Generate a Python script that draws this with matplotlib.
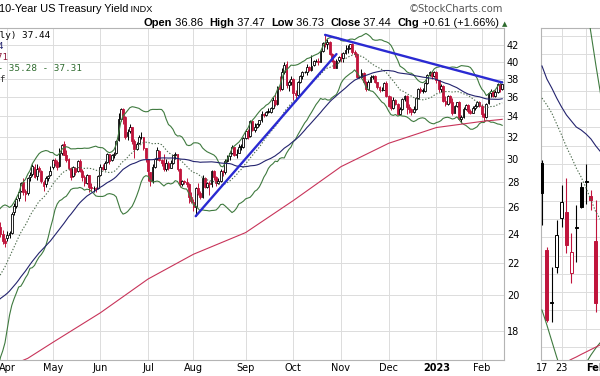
import matplotlib
matplotlib.use("Agg")
import matplotlib.pyplot as plt
from matplotlib.ticker import FixedLocator, NullLocator, FixedFormatter
import numpy as np
import pandas as pd

# ---------------- data (TNX = 10y yield x 10) ----------------
holidays = ["2022-01-17", "2022-02-21", "2022-04-15", "2022-05-30", "2022-06-20",
            "2022-07-04", "2022-09-05", "2022-11-24", "2022-12-26", "2023-01-02",
            "2023-01-16"]

# closes before the visible window (Jan 3 - Mar 25 2022), used for the moving averages
warmup_close = [
    16.3, 16.6, 17.0, 17.3, 17.6, 17.8, 17.4, 17.4, 17.0, 17.8, 18.7, 18.3, 18.3, 17.5, 17.5, 17.7, 18.7, 18.0, 17.8, 17.9,
    18.1, 17.7, 18.3, 19.3, 19.2, 19.6, 19.4, 20.3, 19.4, 19.9, 20.5, 20.3, 19.7, 19.3, 19.4, 19.9, 19.7, 19.7, 18.3,
    17.2, 18.6, 18.4, 17.4, 17.8, 18.6, 19.5, 19.9, 20.0, 21.4, 21.6, 21.9, 21.9, 21.5, 23.2, 23.8, 23.0, 23.7, 24.8,
]

# daily candles Mar 28 2022 - Feb 14 2023, one line per month
opens = [
    24.9, 24.5, 24.0, 23.5,
    23.7, 23.9, 24.1, 25.6, 26.1, 26.7, 27.3, 28.0, 27.3, 27.1, 28.4, 28.7, 29.3, 28.5, 29.2, 28.9, 28.0, 27.8, 28.3, 28.6,
    29.3, 29.9, 29.7, 29.4, 30.5, 31.3, 30.3, 30.0, 29.2, 28.5, 29.2, 28.9, 29.8, 28.9, 28.4, 27.9, 28.6, 27.6, 27.5, 27.5, 27.5,
    28.6, 29.3, 29.1, 29.7, 30.4, 29.9, 30.3, 30.5, 31.7, 33.7, 34.8, 33.9, 32.1, 32.6, 33.0, 31.6, 30.9, 31.4, 32.0, 32.0, 31.0,
    30.0, 28.8, 28.1, 29.3, 30.0, 30.7, 29.9, 29.6, 29.1, 29.6, 29.2, 29.6, 30.3, 30.4, 29.1, 27.8, 28.1, 28.0, 27.8, 26.8,
    26.4, 26.0, 27.5, 27.1, 26.8, 28.3, 27.6, 27.9, 27.8, 28.9, 28.4, 27.9, 28.1, 28.9, 28.8, 29.8, 30.2, 30.5, 31.1, 30.3, 30.5, 31.1, 31.1,
    31.9, 32.6, 32.1, 33.5, 32.7, 33.0, 33.2, 33.6, 34.2, 34.1, 34.5, 34.5, 34.9, 35.7, 35.3, 37.1, 36.9, 38.8, 39.7, 37.3, 37.6,
    38.0, 36.5, 36.2, 37.6, 38.3, 38.8, 38.8, 39.4, 39.0, 39.6, 40.1, 40.1, 40.0, 41.3, 42.3, 42.2, 42.4, 40.9, 40.1, 39.3, 40.2,
    40.5, 40.4, 41.0, 41.5, 41.6, 42.1, 41.2, 40.9, 38.2, 38.2, 38.7, 37.7, 36.9, 37.7, 38.2, 38.3, 37.6, 37.1, 36.8, 36.8, 37.5,
    36.1, 35.1, 34.9, 35.7, 35.3, 34.2, 34.8, 35.8, 36.1, 35.0, 34.8, 34.5, 34.8, 35.9, 36.9, 36.7, 36.7, 37.5, 38.5, 38.8, 38.3,
    38.8, 37.9, 36.9, 37.2, 35.6, 35.3, 36.1, 35.5, 34.4, 35.1, 35.5, 33.7, 33.9, 34.8, 35.2, 34.6, 34.4, 34.9, 35.1, 35.5,
    35.1, 34.2, 33.9, 35.4, 36.4, 36.7, 36.1, 36.6, 37.4, 36.86,
]
highs = [
    25.6, 24.9, 24.3, 23.7,
    24.2, 24.2, 25.6, 26.3, 26.8, 27.3, 28.0, 28.3, 27.4, 28.4, 28.8, 29.5, 29.5, 29.5, 29.4, 29.0, 28.2, 28.5, 28.6, 29.4,
    30.0, 30.1, 29.9, 31.0, 31.3, 31.6, 30.8, 30.1, 29.3, 29.4, 29.3, 29.9, 30.0, 29.1, 28.6, 28.7, 28.6, 27.9, 27.7, 27.6, 28.6,
    29.5, 29.5, 29.8, 30.5, 30.4, 30.4, 30.6, 31.7, 34.3, 34.9, 34.9, 34.0, 32.8, 33.2, 33.0, 31.8, 31.5, 32.2, 32.5, 32.0, 31.0,
    30.0, 28.8, 29.5, 30.1, 31.1, 30.8, 30.0, 30.4, 30.0, 29.8, 29.9, 30.3, 30.6, 30.4, 29.2, 28.2, 28.2, 28.3, 27.9, 27.2,
    26.6, 27.6, 27.9, 27.3, 28.6, 28.4, 28.0, 28.1, 29.0, 29.0, 28.5, 28.3, 29.1, 29.0, 30.0, 30.3, 30.7, 31.2, 31.1, 30.9, 31.3, 31.3, 32.0,
    32.8, 32.8, 33.6, 33.6, 33.3, 33.3, 33.6, 34.6, 34.3, 34.6, 34.9, 35.0, 36.0, 36.4, 37.2, 38.3, 39.3, 39.9, 40.1, 37.9, 38.3,
    38.1, 36.8, 37.8, 38.4, 38.9, 38.9, 39.7, 39.5, 40.8, 40.2, 40.3, 40.4, 41.4, 42.4, 43.4, 42.8, 42.5, 41.0, 40.2, 40.3, 40.7,
    41.0, 41.2, 42.0, 42.0, 42.2, 42.3, 41.4, 41.0, 38.3, 39.1, 38.8, 37.8, 37.9, 38.4, 38.5, 38.4, 37.7, 37.2, 37.1, 37.6, 37.8,
    36.2, 36.1, 36.0, 35.8, 35.4, 35.0, 35.9, 36.2, 36.2, 35.3, 34.9, 35.1, 36.0, 37.0, 37.1, 37.0, 37.6, 38.6, 38.9, 38.9, 38.9,
    38.9, 37.9, 37.4, 37.3, 36.1, 36.2, 36.2, 35.9, 35.2, 35.5, 35.6, 34.1, 35.0, 35.3, 35.3, 34.8, 35.1, 35.3, 35.6, 35.6,
    35.3, 34.4, 35.4, 36.4, 36.9, 36.8, 36.8, 37.5, 37.5, 37.47,
]
lows = [
    24.5, 23.8, 23.3, 23.1,
    23.5, 23.7, 24.0, 25.4, 25.9, 26.5, 27.2, 26.9, 26.5, 26.9, 28.1, 28.5, 28.3, 28.2, 28.8, 27.9, 27.3, 27.6, 28.1, 28.5,
    29.1, 29.4, 29.0, 29.3, 30.3, 30.3, 29.7, 29.0, 28.2, 28.4, 28.6, 28.8, 28.8, 28.1, 27.7, 27.8, 27.2, 27.3, 27.2, 27.2, 27.4,
    28.5, 29.0, 29.0, 29.6, 29.5, 29.8, 30.1, 30.4, 31.6, 33.5, 33.2, 31.8, 31.7, 32.4, 31.3, 30.1, 30.8, 31.3, 31.8, 30.8, 29.7,
    28.1, 27.7, 27.9, 29.2, 29.9, 29.8, 29.4, 28.9, 28.9, 29.0, 29.2, 29.5, 30.0, 28.9, 27.6, 27.7, 27.8, 27.6, 26.3, 26.3,
    25.7, 25.3, 26.9, 26.6, 26.7, 27.5, 27.5, 26.9, 27.6, 28.2, 27.7, 27.8, 28.0, 28.5, 28.7, 29.7, 29.9, 30.4, 30.2, 30.1, 30.5, 30.8, 31.0,
    31.8, 31.8, 32.0, 32.6, 32.5, 32.9, 33.1, 33.4, 33.9, 34.0, 34.3, 34.4, 34.8, 35.1, 35.2, 36.7, 36.8, 38.6, 37.0, 36.7, 37.3,
    35.7, 35.6, 36.1, 37.5, 38.0, 38.7, 38.5, 38.9, 38.9, 39.5, 39.9, 39.6, 39.9, 41.2, 41.8, 41.5, 40.8, 39.9, 39.2, 39.2, 39.9,
    39.9, 39.9, 40.9, 41.0, 41.5, 40.9, 40.5, 38.1, 38.1, 38.1, 37.5, 36.7, 36.8, 37.6, 38.0, 37.5, 36.9, 36.6, 36.7, 36.8, 36.0,
    35.0, 34.7, 34.8, 35.2, 34.1, 34.1, 34.7, 35.6, 34.2, 34.4, 34.1, 34.4, 34.7, 35.8, 36.4, 36.4, 36.6, 37.4, 38.3, 38.0, 38.2,
    37.5, 36.6, 36.6, 35.5, 35.1, 35.2, 35.4, 34.1, 34.3, 35.0, 33.6, 33.3, 33.8, 34.7, 34.4, 34.2, 34.4, 34.7, 35.0, 35.0,
    33.9, 33.5, 33.8, 35.3, 36.0, 36.0, 36.0, 36.5, 36.6, 36.73,
]
closes = [
    24.6, 24.0, 23.5, 23.4,
    23.9, 24.1, 25.5, 26.1, 26.6, 27.2, 27.9, 27.2, 27.0, 28.3, 28.6, 29.4, 28.4, 29.1, 29.0, 28.1, 27.7, 28.3, 28.5, 28.9,
    29.9, 29.6, 29.3, 30.5, 31.2, 30.3, 29.9, 29.2, 28.4, 29.3, 28.8, 29.8, 28.9, 28.4, 27.9, 28.6, 27.6, 27.5, 27.5, 27.4, 28.5,
    29.3, 29.1, 29.6, 30.4, 29.8, 30.3, 30.4, 31.6, 33.7, 34.8, 33.9, 32.0, 32.5, 33.0, 31.6, 30.9, 31.3, 32.0, 32.0, 31.0, 30.1,
    28.9, 28.1, 29.3, 30.0, 30.8, 29.9, 29.6, 29.1, 29.6, 29.2, 29.6, 30.3, 30.4, 29.1, 27.8, 28.1, 28.0, 27.8, 26.8, 26.5,
    26.0, 27.5, 27.1, 26.8, 28.3, 27.6, 27.9, 27.8, 28.9, 28.4, 27.9, 28.1, 28.9, 28.8, 29.8, 30.2, 30.5, 31.1, 30.3, 30.4, 31.1, 31.1, 31.9,
    32.6, 32.0, 33.5, 32.7, 33.0, 33.2, 33.6, 34.2, 34.1, 34.5, 34.5, 34.9, 35.7, 35.3, 37.1, 36.9, 38.8, 39.6, 37.3, 37.6, 38.0,
    36.5, 36.2, 37.6, 38.3, 38.8, 38.8, 39.4, 39.0, 39.5, 40.1, 40.1, 40.0, 41.3, 42.3, 42.1, 42.4, 40.9, 40.1, 39.2, 40.1, 40.5,
    40.4, 41.0, 41.4, 41.6, 42.1, 41.2, 40.9, 38.2, 38.2, 38.7, 37.7, 36.9, 37.7, 38.2, 38.3, 37.6, 37.1, 36.8, 36.8, 37.5, 36.1,
    35.1, 34.9, 35.7, 35.3, 34.2, 34.8, 35.8, 36.1, 35.0, 34.8, 34.5, 34.8, 35.9, 36.9, 36.7, 36.7, 37.5, 38.5, 38.8, 38.3, 38.8,
    37.9, 36.9, 37.2, 35.6, 35.3, 36.1, 35.5, 34.4, 35.1, 35.5, 33.7, 33.9, 34.8, 35.2, 34.6, 34.4, 34.9, 35.1, 35.5, 35.1,
    34.2, 33.9, 35.3, 36.4, 36.7, 36.1, 36.6, 37.4, 36.83, 37.44,
]

# 200-day MA
sma200_dates = ["2022-03-28", "2022-04-14", "2022-05-02", "2022-06-01", "2022-07-01", "2022-08-01", "2022-09-01",
                "2022-10-03", "2022-11-01", "2022-12-01", "2023-01-03", "2023-02-01", "2023-02-14"]
sma200_vals = [16.0, 16.6, 17.4, 19.0, 21.0, 22.6, 24.1, 26.5, 29.3, 31.4, 32.9, 33.5, 33.71]

# hand drawn trendlines
trend_up = [("2022-08-02", 25.3), ("2022-10-28", 40.9)]
trend_down = [("2022-10-21", 43.3), ("2023-02-14", 37.6)]

month_starts = ["2022-04", "2022-05", "2022-06", "2022-07", "2022-08", "2022-09", "2022-10",
                "2022-11", "2022-12", "2023-01", "2023-02"]
month_labels = ["Apr", "May", "Jun", "Jul", "Aug", "Sep", "Oct", "Nov", "Dec", "2023", "Feb"]
ytick_vals = [18, 20, 22, 24, 26, 28, 30, 32, 34, 36, 38, 40, 42]

# right hand (cut off) second chart, values in its own units
r_prev_close = 160
r_open = [197, 110, 57, 93, 142, 148, 87, 132, 173, 178, 164, 119]
r_high = [200, 113, 93, 140, 175, 182, 127, 155, 178, 196, 170, 160]
r_low = [135, 38, 38, 87, 133, 107, 77, 98, 152, 156, 150, 48]
r_close = [167, 40, 57, 125, 158, 115, 108, 132, 153, 178, 160, 57]
r_navy = [294, 281, 272, 262, 253, 245, 239, 233, 230, 226, 221, 214, 208]
r_dotted = [262, 255, 247, 236, 225, 213, 203, 192, 183, 172, 160, 148, 140]
r_bb_up = [480, 470, 460, 450, 440, 430, 420, 400, 385, 358, 327, 295, 265]
r_bb_low = [50, 35, 19, 3, -12, -25, -35, -30, -15, -3, 5, 12, 18]
r_red = [-14, -12, -9, -7, -4, -2, 0.7, 3, 5.6, 8, 10.5, 12.9, 15.4]
r_tick_pos = [0, 4, 11]
r_tick_labels = ["17", "23", "Feb"]

# ---------------- layout helpers ----------------
W, H = 600, 376
fig = plt.figure(figsize=(6, 3.76), dpi=100)


def box(x0, y0, x1, y1):
    return [x0 / W, 1 - y1 / H, (x1 - x0) / W, (y1 - y0) / H]


RED = "#c0143c"
GRID = "#dcdcdc"
EDGE = "#b4b4b4"

dates = pd.bdate_range("2022-01-03", "2023-02-14", freq="C", holidays=holidays)
all_close = np.array(warmup_close + closes)
assert len(dates) == len(all_close)
origin = dates.get_loc(pd.Timestamp("2022-04-01"))
pos = np.arange(len(dates)) - origin


def to_pos(d):
    return dates.get_loc(pd.Timestamp(d)) - origin


s = pd.Series(all_close)
mid = s.rolling(20).mean()
sd = s.rolling(20).std(ddof=0)
bb_up = mid + 2 * sd
bb_low = mid - 2 * sd
sma50 = s.rolling(50).mean()

# ---------------- main chart ----------------
ax = fig.add_axes(box(0, 28, 504, 360))
ax.set_yscale("log")
ax.set_ylim(16.52, 44.19)
ax.set_xlim(-3.2, 218.8)

n0 = len(warmup_close)
cpos = pos[n0:]
o = np.array(opens)
h = np.array(highs)
l = np.array(lows)
c = np.array(closes)
prev = np.concatenate([[warmup_close[-1]], c[:-1]])
cols = np.where(c >= prev, "black", RED)

ax.vlines(cpos, l, h, colors=cols, lw=0.7, zorder=3)
for x, oo, cc, col in zip(cpos, o, c, cols):
    lo, hi = min(oo, cc), max(oo, cc)
    face = "white" if cc > oo else col
    ax.bar(x, max(hi - lo, 0.02), bottom=lo, width=0.8, facecolor=face,
           edgecolor=col, lw=0.6, zorder=4)

ax.plot(pos, bb_up, color="#3f7a3f", lw=0.8, zorder=5)
ax.plot(pos, bb_low, color="#3f7a3f", lw=0.8, zorder=5)
ax.plot(pos, mid, color="#4d6b4d", lw=0.8, ls=(0, (1.2, 1.6)), zorder=5)
ax.plot(pos, sma50, color="#23236e", lw=0.8, zorder=5)
ax.plot([to_pos(d) for d in sma200_dates], sma200_vals, color="#c8345a", lw=0.8, zorder=5)

for tl in (trend_up, trend_down):
    ax.plot([to_pos(d) for d, _ in tl], [v for _, v in tl], color="#2a2ad2", lw=1.7,
            solid_capstyle="round", zorder=6)

mpos = [to_pos(dates[dates.strftime("%Y-%m") == m][0]) for m in month_starts]
ax.xaxis.set_major_locator(FixedLocator(mpos))
ax.xaxis.set_major_formatter(FixedFormatter(month_labels))
ax.yaxis.set_major_locator(FixedLocator(ytick_vals))
ax.yaxis.set_minor_locator(NullLocator())
ax.yaxis.set_major_formatter(FixedFormatter([str(v) for v in ytick_vals]))
ax.yaxis.tick_right()
ax.tick_params(length=0, labelsize=7, pad=2.5)
ax.tick_params(axis="y", pad=2)
for lab in ax.get_xticklabels():
    if lab.get_text() == "2023":
        lab.set_fontweight("bold")
ax.grid(True, color=GRID, lw=0.7)
ax.set_axisbelow(True)
ax.spines["left"].set_visible(False)
for k in ("top", "right", "bottom"):
    ax.spines[k].set_color(EDGE)
    ax.spines[k].set_linewidth(0.8)

# legend lines (cut off at the left edge, as in the source)
legend = [("$TNX (Daily) 37.44", "black", 50, 36),
          ("MA(50) 35.94", "#23236e", 3, 46.5),
          ("MA(200) 33.71", "#8c1c3c", 8, 57.5),
          ("BB(20,2.0) 33.25 - 35.28 - 37.31", "#2d6a2d", 82, 69),
          ("Volume undef", "#333333", 5, 79.5)]
for txt, col, xr, yc in legend:
    fig.text(xr / W, 1 - yc / H, txt, color=col, ha="right", va="center",
             family="DejaVu Sans Mono", fontsize=6.7)

# header
title = fig.text(-1 / W, 1 - 12.5 / H, "10-Year US Treasury Yield", ha="left", va="baseline",
                 family="Liberation Sans", fontsize=7.9)
ax.annotate(" INDX", xy=(1, 0), xycoords=title, ha="left", va="bottom",
            family="Liberation Sans", fontsize=6.6, annotation_clip=False)
fig.text(503 / W, 1 - 9 / H, "\u00a9StockCharts.com", ha="right", va="center",
         family="DejaVu Sans", fontsize=7.2, color="#555555")

parts = [("Open", True), (" 36.86  ", False), ("High", True), (" 37.47  ", False),
         ("Low", True), (" 36.73  ", False), ("Close", True), (" 37.44  ", False),
         ("Chg", True), (" +0.61 (+1.66%) ", False)]
prev_t = fig.text(143 / W, 1 - 26.5 / H, parts[0][0], ha="left", va="baseline",
                  family="Liberation Sans", fontsize=8, fontweight="bold")
for txt, bold in parts[1:]:
    prev_t = ax.annotate(txt, xy=(1, 0), xycoords=prev_t, ha="left", va="bottom",
                         family="Liberation Sans", fontsize=8,
                         fontweight="bold" if bold else "normal", annotation_clip=False)
ax.annotate("\u25b2", xy=(1, 0.1), xycoords=prev_t, ha="left", va="bottom",
            fontsize=5, color="#2e6b2e", annotation_clip=False)

# ---------------- right hand panel ----------------
ax2 = fig.add_axes(box(541, 28, 660, 360))
ax2.set_xlim(-0.2, 24.1)
ax2.set_ylim(0, 332)
rp = np.arange(len(r_open))
ro, rh, rl, rc = map(np.array, (r_open, r_high, r_low, r_close))
rprev = np.concatenate([[r_prev_close], rc[:-1]])
rcols = np.where(rc >= rprev, "black", RED)
ax2.vlines(rp, rl, rh, colors=rcols, lw=0.8, zorder=3)
for x, oo, cc, col in zip(rp, ro, rc, rcols):
    lo, hi = min(oo, cc), max(oo, cc)
    face = "white" if cc > oo else col
    ax2.bar(x, max(hi - lo, 1.5), bottom=lo, width=0.62, facecolor=face,
            edgecolor=col, lw=0.7, zorder=4)
lp = np.arange(len(r_navy))
ax2.plot(lp, r_navy, color="#23236e", lw=0.8, zorder=5)
ax2.plot(lp, r_dotted, color="#4d6b4d", lw=0.8, ls=(0, (1.2, 1.6)), zorder=5)
ax2.plot(lp, r_bb_up, color="#3f7a3f", lw=0.8, zorder=5)
ax2.plot(lp, r_bb_low, color="#3f7a3f", lw=0.8, zorder=5)
ax2.plot(lp, r_red, color="#c8345a", lw=0.8, zorder=5)

ax2.set_yticks(np.arange(13, 332, 18.3))
ax2.set_xticks([4, 9, 14])
ax2.grid(True, color=GRID, lw=0.7)
ax2.set_axisbelow(True)
ax2.tick_params(length=0, labelleft=False, labelbottom=False)
for k in ("top", "left", "bottom"):
    ax2.spines[k].set_color(EDGE)
    ax2.spines[k].set_linewidth(0.8)
for p, t in zip(r_tick_pos, r_tick_labels):
    ax2.text(p, -3, t, ha="center", va="top", fontsize=7,
             fontweight="bold" if t == "Feb" else "normal", clip_on=False)

fig.savefig("out.png", dpi=100)
